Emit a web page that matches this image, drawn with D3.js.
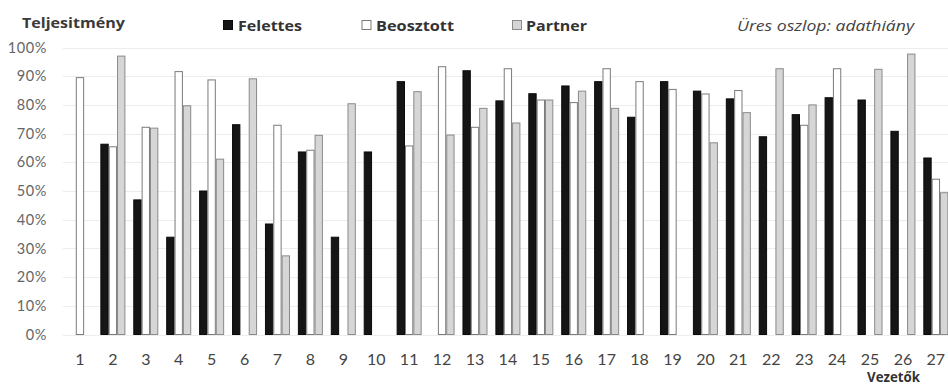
<!DOCTYPE html>
<html><head><meta charset="utf-8">
<script src="https://cdn.jsdelivr.net/npm/d3@7"></script>
<style>
html,body{margin:0;padding:0;background:#fff;overflow:hidden;}
svg{display:block;font-family:Lato,"Open Sans",sans-serif;}
</style></head>
<body><svg id="c" width="948" height="386"></svg>
<script>
const categories = ["1","2","3","4","5","6","7","8","9","10","11","12","13","14","15","16","17","18","19","20","21","22","23","24","25","26","27"];
const seriesNames = ["Felettes","Beosztott","Partner"];
const felettes  = [null,66.3,46.9,33.9,50.0,73.1,38.5,63.6,33.9,63.6,88.1,null,91.9,81.4,83.9,86.6,88.1,75.7,88.1,84.8,82.1,68.9,76.6,82.5,81.7,70.8,61.5];
const beosztott = [89.5,65.4,72.2,91.6,88.7,null,72.9,64.2,null,null,65.7,93.3,72.2,92.6,81.7,80.8,92.6,88.1,85.4,83.8,85.0,null,72.9,92.6,null,null,54.1];
const partner   = [null,97.0,71.9,79.7,61.1,89.1,27.4,69.4,80.4,null,84.6,69.5,78.8,73.7,81.7,84.8,78.8,null,null,66.8,77.3,92.6,80.0,null,92.4,97.7,49.4];
const yTicks = [0,10,20,30,40,50,60,70,80,90,100];

const series = [
  {name:"Felettes", values:felettes, fill:"#151515", stroke:"#0a0a0a"},
  {name:"Beosztott", values:beosztott, fill:"#ffffff", stroke:"#7a7a7a"},
  {name:"Partner", values:partner, fill:"#d6d6d6", stroke:"#8a8a8a"}
];

const svg = d3.select("#c");
const x0 = d3.scaleBand().domain(categories).range([63.5, 952.3]).padding(0);
const bw = x0.bandwidth();
const x1 = d3.scaleBand().domain(seriesNames).range([bw*0.12, bw*0.88]).padding(0);
const y = d3.scaleLinear().domain([0,100]).range([334.5, 47.5]);

// gridlines
svg.append("g").selectAll("line").data(yTicks).join("line")
  .attr("x1",63).attr("x2",948)
  .attr("y1",d=>Math.round(y(d))+0.5).attr("y2",d=>Math.round(y(d))+0.5)
  .attr("stroke","#ededed").attr("stroke-width",1);

// y axis labels
const yAxis = d3.axisLeft(y).tickValues(yTicks).tickFormat(d=>d+"%").tickSize(0).tickPadding(0);
const ga = svg.append("g").attr("transform","translate(47,0)").call(yAxis);
ga.select(".domain").remove();
ga.selectAll("text").attr("font-size",14.5).attr("fill","#666").attr("letter-spacing","0.6px").attr("font-family","Lato, sans-serif");

// x axis labels
const xAxis = d3.axisBottom(x0).tickSize(0).tickPadding(0);
const gx = svg.append("g").attr("transform","translate(0,354)").call(xAxis);
gx.select(".domain").remove();
gx.selectAll("text").attr("font-size",16).attr("fill","#444").attr("font-family","Lato, sans-serif");

// bars
const gBars = svg.append("g");
series.forEach(s=>{
  gBars.append("g").selectAll("rect")
    .data(categories.map((c,i)=>({c, v:s.values[i]})).filter(d=>d.v!==null))
    .join("rect")
    .attr("x",d=>x0(d.c)+x1(s.name)+0.5)
    .attr("y",d=>y(d.v))
    .attr("width",x1.bandwidth()-1)
    .attr("height",d=>y(0)-y(d.v))
    .attr("fill",s.fill).attr("stroke",s.stroke).attr("stroke-width",1);
});

// title & legend
svg.append("text").attr("x",22).attr("y",28).text("Teljesitmény")
  .attr("font-family","'Open Sans', sans-serif")
  .attr("font-size",14).attr("font-weight","bold").attr("fill","#3a3a3a")
  .attr("textLength",103).attr("lengthAdjust","spacingAndGlyphs");
const legendX = [223, 361.5, 512];
const legendTextX = [238, 376, 526];
const legendW = [64, 78, 61];
series.forEach((s,i)=>{
  svg.append("rect").attr("x",legendX[i]+0.5).attr("y",20.5).attr("width",9).attr("height",9)
    .attr("fill",s.fill).attr("stroke",s.stroke);
  svg.append("text").attr("x",legendTextX[i]).attr("y",30.5).text(s.name)
    .attr("font-family","'Open Sans', sans-serif")
    .attr("font-size",15).attr("font-weight","bold").attr("fill","#333")
    .attr("textLength",legendW[i]).attr("lengthAdjust","spacingAndGlyphs");
});
svg.append("text").attr("x",737).attr("y",31).text("Üres oszlop: adathiány")
  .attr("font-family","'Open Sans', sans-serif")
  .attr("font-size",15).attr("font-style","italic").attr("fill","#444")
  .attr("textLength",177).attr("lengthAdjust","spacingAndGlyphs");
svg.append("text").attr("x",867).attr("y",382).text("Vezetők")
  .attr("font-family","'Open Sans', sans-serif")
  .attr("font-size",13.5).attr("font-weight","bold").attr("fill","#333")
  .attr("textLength",53).attr("lengthAdjust","spacingAndGlyphs");
</script></body></html>
